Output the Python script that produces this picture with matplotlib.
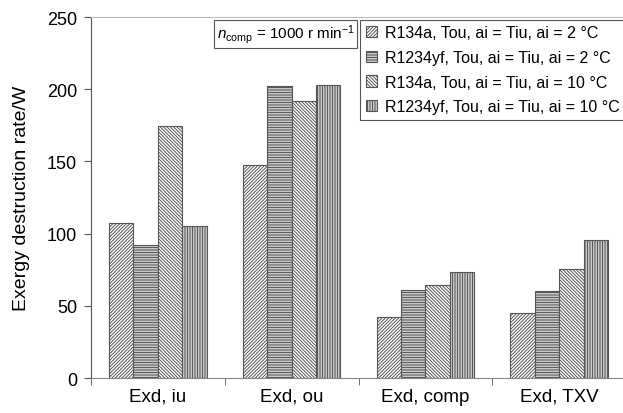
import numpy as np
import matplotlib
matplotlib.use('Agg')
import matplotlib.pyplot as plt

plt.rcParams['font.family'] = ['Liberation Sans', 'DejaVu Sans']
plt.rcParams['mathtext.fontset'] = 'custom'
plt.rcParams['mathtext.rm'] = 'Liberation Sans'
plt.rcParams['mathtext.it'] = 'Liberation Sans:italic'
plt.rcParams['hatch.linewidth'] = 0.7
plt.rcParams['hatch.color'] = '#222222'

categories = ['Exd, iu', 'Exd, ou', 'Exd, comp', 'Exd, TXV']
series = ['R134a, Tou, ai = Tiu, ai = 2 \u00b0C',
          'R1234yf, Tou, ai = Tiu, ai = 2 \u00b0C',
          'R134a, Tou, ai = Tiu, ai = 10 \u00b0C',
          'R1234yf, Tou, ai = Tiu, ai = 10 \u00b0C']
r134a_2 = [107.3, 147.6, 42.1, 45.0]
r1234yf_2 = [92.2, 202.0, 61.0, 60.0]
r134a_10 = [174.6, 192.0, 64.4, 75.3]
r1234yf_10 = [105.5, 203.0, 73.7, 95.6]
values = [r134a_2, r1234yf_2, r134a_10, r1234yf_10]
hatches = ['/' * 10, '-' * 10, '\\' * 10, '|' * 10]

fig = plt.figure(figsize=(6.23, 4.14), dpi=100)
ax = fig.add_axes([0.146, 0.0845, 0.859, 0.872])

x = np.arange(len(categories))
w = 0.1825
for i, (vals, lab, h) in enumerate(zip(values, series, hatches)):
    ax.bar(x + (i - 1.5) * w, vals, w, label=lab, hatch=h,
           facecolor='white', edgecolor='#555555', linewidth=0.8)

ax.set_xlim(-0.5, 3.5)
ax.set_ylim(0, 250)
ax.set_yticks([0, 50, 100, 150, 200, 250])
ax.set_xticks(x)
ax.set_xticklabels(categories, fontsize=13.5)
ax.set_xticks(np.arange(-0.5, 4.0, 1.0), minor=True)
ax.tick_params(axis='x', which='major', length=0, pad=7)
ax.tick_params(axis='x', which='minor', length=5, direction='out', color='#555555')
ax.tick_params(axis='y', labelsize=13, length=5, color='#555555', pad=5)
ax.set_ylabel('Exergy destruction rate/W', fontsize=14, labelpad=12)

ax.spines['right'].set_visible(False)
ax.spines['top'].set_color('#bbbbbb')
ax.spines['left'].set_color('#555555')
ax.spines['bottom'].set_color('#888888')

leg = ax.legend(loc='upper right', bbox_to_anchor=(0.998, 0.992), borderaxespad=0,
                fontsize=11.5, handlelength=0.7, handleheight=0.7,
                handletextpad=0.5, labelspacing=0.6, fancybox=False,
                framealpha=1, edgecolor='#555555', borderpad=0.35)
leg.get_frame().set_linewidth(0.8)

ax.text(0.235, 0.985, r'$n_{\mathrm{comp}}$ = 1000 r min$^{-1}$', transform=ax.transAxes,
        ha='left', va='top', fontsize=11,
        bbox=dict(boxstyle='square,pad=0.15', fc='white', ec='#555555', lw=0.8))

fig.savefig('out.png', dpi=100)
